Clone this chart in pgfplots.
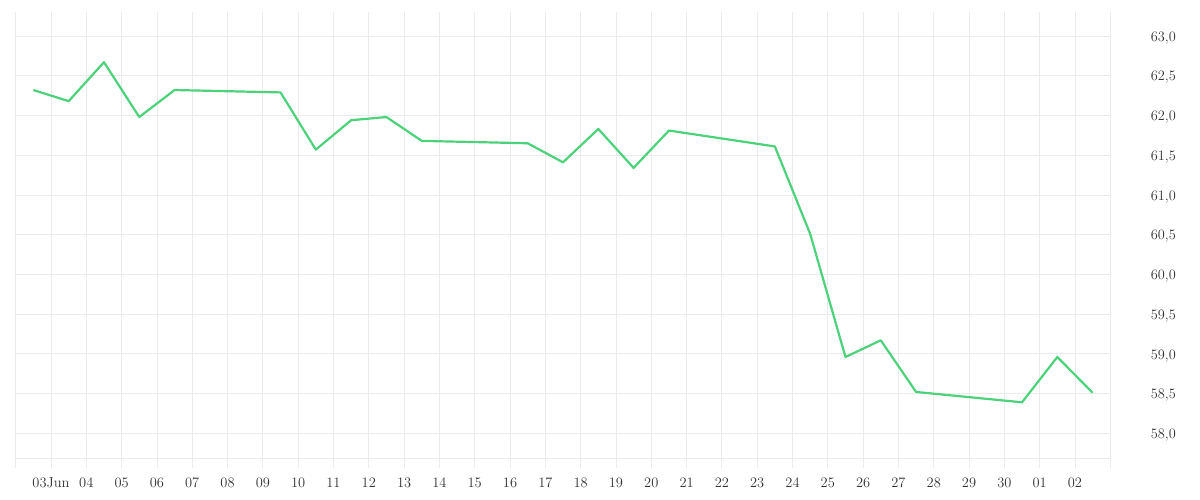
\documentclass[border=0pt]{standalone}
\usepackage{pgfplots}
\pgfplotsset{compat=1.18}
\definecolor{gridgrey}{RGB}{235,235,235}
\definecolor{linegreen}{RGB}{76,210,122}
\begin{document}
\begin{tikzpicture}
\path[use as bounding box] (0,0) rectangle (1200bp,500bp);
\begin{axis}[
  at={(15.7bp,42bp)}, anchor=south west,
  scale only axis, width=1094.6bp, height=446bp,
  xmin=-1, xmax=30, ymin=57.689, ymax=63.302,
  axis line style={draw=none},
  xtick={-1,0,...,30},
  xticklabels={,03Jun,04,05,06,07,08,09,10,11,12,13,14,15,16,17,18,19,20,21,22,23,24,25,26,27,28,29,30,01,02,},
  ytick={58,58.5,...,63},
  yticklabel pos=right,
  xtick pos=bottom,
  tick align=outside,
  major tick length=10bp,
  x tick style={draw=gridgrey, line width=0.8bp},
  y tick style={draw=none},
  grid=major,
  major grid style={draw=gridgrey, line width=0.8bp},
  tick label style={font=\fontsize{14.5}{16}\selectfont, text=black!80},
  x tick label style={yshift=-6bp},
  y tick label style={anchor=west, xshift=27bp, yshift=-2bp},
  yticklabel style={/pgf/number format/.cd, use comma, fixed, fixed zerofill, precision=1},
  clip=false,
]
\draw[gridgrey, line width=0.8bp] (rel axis cs:0,0) -- (rel axis cs:1,0);
\addplot[linegreen, line width=2.2bp, line join=round, mark=none] coordinates {
(-0.5,62.32) (0.5,62.18) (1.5,62.67) (2.5,61.98) (3.5,62.32)
(6.5,62.29) (7.5,61.57) (8.5,61.94) (9.5,61.98) (10.5,61.68)
(13.5,61.65) (14.5,61.41) (15.5,61.83) (16.5,61.34) (17.5,61.81)
(20.5,61.61) (21.5,60.51) (22.5,58.96) (23.5,59.17) (24.5,58.52)
(27.5,58.39) (28.5,58.96) (29.5,58.51)
};
\end{axis}
\end{tikzpicture}
\end{document}
